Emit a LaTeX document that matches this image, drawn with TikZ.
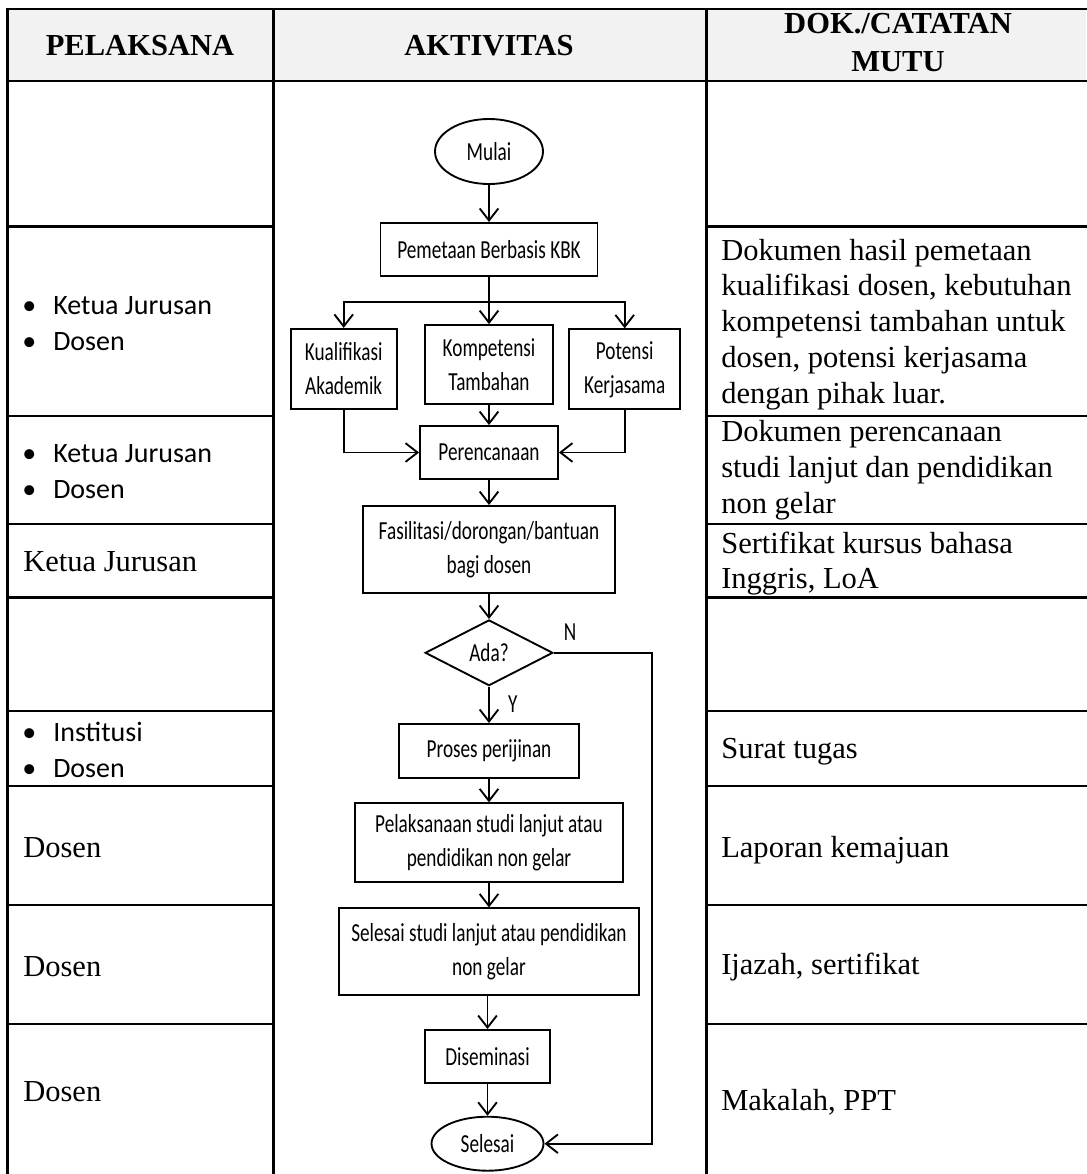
\documentclass[tikz,border=0pt]{standalone}
\usepackage{fontspec}
\setmainfont{Liberation Serif}
\newfontfamily\calfont{Carlito}
\newfontfamily\flowfont[FakeStretch=0.74]{Carlito}
\usetikzlibrary{arrows.meta,shapes.geometric}
\definecolor{hdr}{HTML}{F2F2F2}
\newcommand\pbul{\makebox[23.25pt][l]{\textbullet}}
\begin{document}
\begin{tikzpicture}[x=0.75pt,y=-0.75pt,
  tline/.style={line width=2pt},
  fbox/.style={draw, fill=white, line width=1.4pt, rectangle, inner sep=1pt, align=center,
    font=\flowfont\fontsize{19.5pt}{25.5pt}\selectfont},
  term/.style={fbox, ellipse},
  dec/.style={fbox, diamond},
  lbl/.style={inner sep=0pt, font=\flowfont\fontsize{19.5pt}{25.5pt}\selectfont},
  arr/.style={line width=1.4pt, -{Straight Barb[length=9pt,width=14pt]}},
  link/.style={line width=1.4pt},
  serif/.style={font=\fontsize{22.9pt}{26.85pt}\selectfont, inner sep=0pt, anchor=base west},
  bul/.style={font=\calfont\fontsize{21pt}{27.5pt}\selectfont, inner sep=0pt, anchor=base west},
  head/.style={font=\bfseries\fontsize{22.9pt}{28.5pt}\selectfont, inner sep=0pt, anchor=base}]
\useasboundingbox (0,0) rectangle (1086,1174);

% table
\fill[hdr] (7.3,9) rectangle (1086,81);
\draw[tline] (1090,9) -- (7.3,9) -- (7.3,1180);
\draw[tline] (273.3,9) -- (273.3,1180);
\draw[tline] (706.7,9) -- (706.7,1180);
\draw[tline] (7.3,81) -- (1090,81);
\foreach \yy in {226.7,416,524,597.7,711,786,905,1024}{
  \draw[tline] (7.3,\yy) -- (273.3,\yy);
  \draw[tline] (706.7,\yy) -- (1090,\yy);
}

% headers
\node[head] (h1) at (140,55) {PELAKSANA};
\node[head] (h2) at (489,55) {AKTIVITAS};
\node[head] (h3) at (898,33.6) {\begin{tabular}[t]{@{}c@{}}DOK./CATATAN\\MUTU\end{tabular}};

% pelaksana column
\node[bul] (p2) at (22,314) {\begin{tabular}[t]{@{}l@{}}\pbul Ketua Jurusan\\\pbul Dosen\end{tabular}};
\node[bul] (p3) at (22,462) {\begin{tabular}[t]{@{}l@{}}\pbul Ketua Jurusan\\\pbul Dosen\end{tabular}};
\node[serif] (p4) at (23,571) {Ketua Jurusan};
\node[bul] (p6) at (22,741) {\begin{tabular}[t]{@{}l@{}}\pbul Institusi\\\pbul Dosen\end{tabular}};
\node[serif] (p7) at (23,857) {Dosen};
\node[serif] (p8) at (23,976) {Dosen};
\node[serif] (p9) at (23,1101) {Dosen};

% dokumen column
\node[serif] (d2) at (721,260) {\begin{tabular}[t]{@{}l@{}}Dokumen hasil pemetaan\\kualifikasi dosen, kebutuhan\\kompetensi tambahan untuk\\dosen, potensi kerjasama\\dengan pihak luar.\end{tabular}};
\node[serif] (d3) at (721,441.5) {\begin{tabular}[t]{@{}l@{}}Dokumen perencanaan\\studi lanjut dan pendidikan\\non gelar\end{tabular}};
\node[serif] (d4) at (721,553) {\begin{tabular}[t]{@{}l@{}}Sertifikat kursus bahasa\\Inggris, LoA\end{tabular}};
\node[serif] (d6) at (721,758) {Surat tugas};
\node[serif] (d7) at (721,857) {Laporan kemajuan};
\node[serif] (d8) at (721,974) {Ijazah, sertifikat};
\node[serif] (d9) at (721,1110) {Makalah, PPT};

% flowchart
\node[term, minimum width=81pt, minimum height=48.75pt] (mulai) at (489,151.5) {Mulai};
\node[fbox, minimum width=162.75pt, minimum height=39.75pt] (pemetaan) at (489,249.4) {Pemetaan Berbasis KBK};
\node[fbox, minimum width=79.5pt, minimum height=60pt] (kual) at (343.7,368.8) {Kualifikasi\\Akademik};
\node[fbox, minimum width=96.5pt, minimum height=59.5pt] (komp) at (489,364.7) {Kompetensi\\Tambahan};
\node[fbox, minimum width=83pt, minimum height=60pt] (pot) at (624.7,369.3) {Potensi\\Kerjasama};
\node[fbox, minimum width=103.5pt, minimum height=39.75pt] (renc) at (489,452.5) {Perencanaan};
\node[fbox, minimum width=189pt, minimum height=65pt] (fasil) at (489,549.3) {Fasilitasi/dorongan/bantuan\\bagi dosen};
\node[dec, minimum width=95.8pt, minimum height=49.3pt] (ada) at (489,652.8) {Ada?};
\node[fbox, minimum width=135pt, minimum height=40.3pt] (proses) at (489,750.8) {Proses perijinan};
\node[fbox, minimum width=201.5pt, minimum height=59.25pt] (pelak) at (489,842.8) {Pelaksanaan studi lanjut atau\\pendidikan non gelar};
\node[fbox, minimum width=225pt, minimum height=65pt] (selstudi) at (489,951.7) {Selesai studi lanjut atau pendidikan\\non gelar};
\node[fbox, minimum width=93.5pt, minimum height=39.5pt] (disem) at (487.5,1056.3) {Diseminasi};
\node[term, minimum width=84pt, minimum height=40.5pt] (selesai) at (487.5,1143.7) {Selesai};

\node[lbl] (nlab) at (570,631.7) {N};
\node[lbl] (ylab) at (512.7,704.3) {Y};

\coordinate (br) at (489,302.3);
\coordinate (nc) at (651.7,1143.7);

\draw[arr] (mulai) -- (pemetaan);
\draw[link] (pemetaan) -- (br);
\draw[arr] (br) -- (komp);
\draw[arr] (br) -| (kual);
\draw[arr] (br) -| (pot);
\draw[arr] (kual) |- (renc);
\draw[arr] (pot) |- (renc);
\draw[arr] (komp) -- (renc);
\draw[arr] (renc) -- (fasil);
\draw[arr] (fasil) -- (ada);
\draw[arr] (ada) -- (proses);
\draw[arr] (proses) -- (pelak);
\draw[arr] (pelak) -- (selstudi);
\draw[arr] (selstudi.south -| disem) -- (disem);
\draw[arr] (disem) -- (selesai);
\draw[arr] (ada.east) -| (nc) -- (selesai);
\end{tikzpicture}
\end{document}
